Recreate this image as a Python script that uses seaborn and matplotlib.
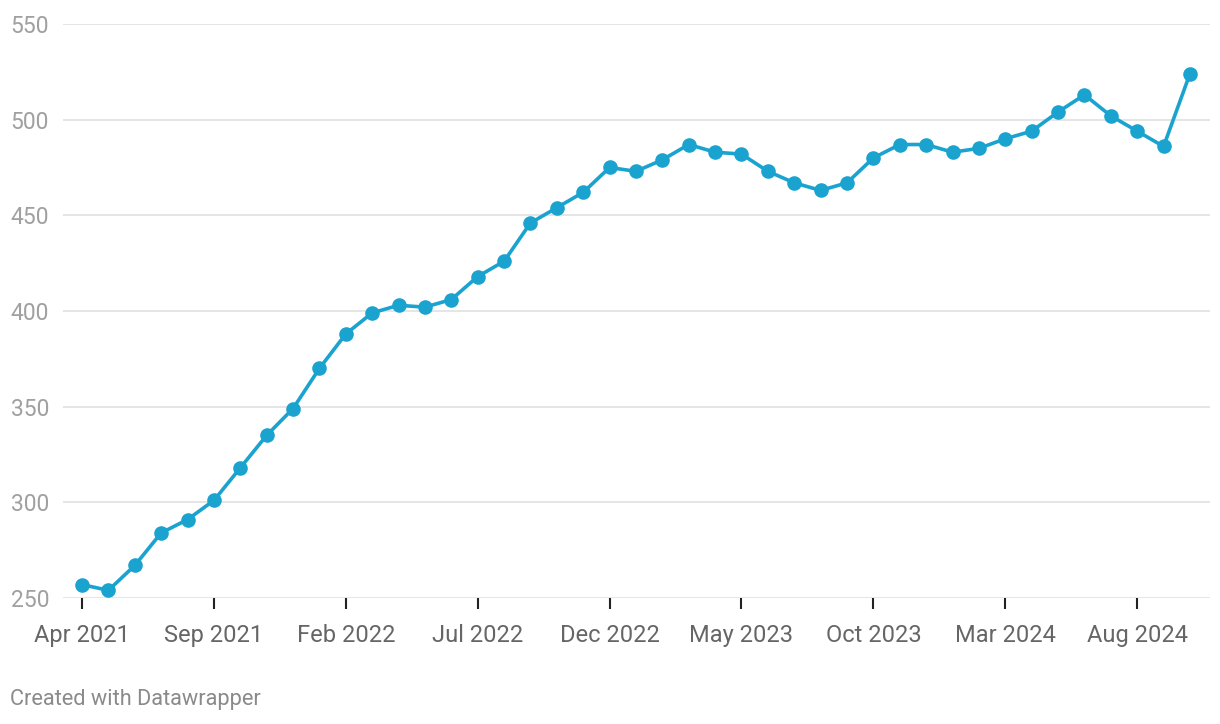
import matplotlib
matplotlib.use("Agg")
import matplotlib.pyplot as plt
import seaborn as sns
import pandas as pd

sns.set_style("white")
plt.rcParams['font.family'] = ['Roboto', 'DejaVu Sans']

months = pd.date_range("2021-04-01", "2024-10-01", freq="MS")
values = [257, 254, 267, 284, 291, 301, 318, 335, 349, 370,
          388, 399, 403, 402, 406, 418, 426, 446, 454, 462,
          475, 473, 479, 487, 483, 482, 473, 467, 463, 467,
          480, 487, 487, 483, 485, 490, 494, 504, 513, 502,
          494, 486, 524]
tick_labels = ["Apr 2021", "Sep 2021", "Feb 2022", "Jul 2022", "Dec 2022",
               "May 2023", "Oct 2023", "Mar 2024", "Aug 2024"]
y_ticks = [250, 300, 350, 400, 450, 500, 550]

df = pd.DataFrame({"idx": range(len(months)), "value": values})

fig = plt.figure(figsize=(12.2, 7.24), dpi=100)
ax = fig.add_axes([63 / 1220, 1 - 598 / 724, (1210 - 63) / 1220, (598 - 24) / 724])

sns.lineplot(data=df, x="idx", y="value", ax=ax, color="#1aa3cf", linewidth=2.6,
             marker="o", markersize=10.5, markeredgewidth=0, zorder=3)

ax.set_xlim(-0.72, 42.76)
ax.set_ylim(250, 550)
ax.set_yticks(y_ticks)
ax.set_yticklabels([str(v) for v in y_ticks])
ax.set_xticks(list(range(0, len(months), 5)))
ax.set_xticklabels(tick_labels)
ax.set_xlabel("")
ax.set_ylabel("")

ax.grid(axis="y", color="#e3e3e3", linewidth=1.3)
ax.grid(axis="x", visible=False)
for s in ax.spines.values():
    s.set_visible(False)

ax.tick_params(axis="y", length=0, pad=10, labelsize=16.5, labelcolor="#a0a0a0")
ax.tick_params(axis="x", length=8, width=1.5, color="#222222", direction="out",
               pad=11, labelsize=17, labelcolor="#666666", bottom=True)
for lbl in ax.get_yticklabels():
    lbl.set_horizontalalignment("right")

fig.text(10 / 1220, 1 - 700 / 724, "Created with Datawrapper", fontsize=15.7,
         color="#8a8a8a", va="center", ha="left")

fig.savefig("out.png", dpi=100, facecolor="white")
